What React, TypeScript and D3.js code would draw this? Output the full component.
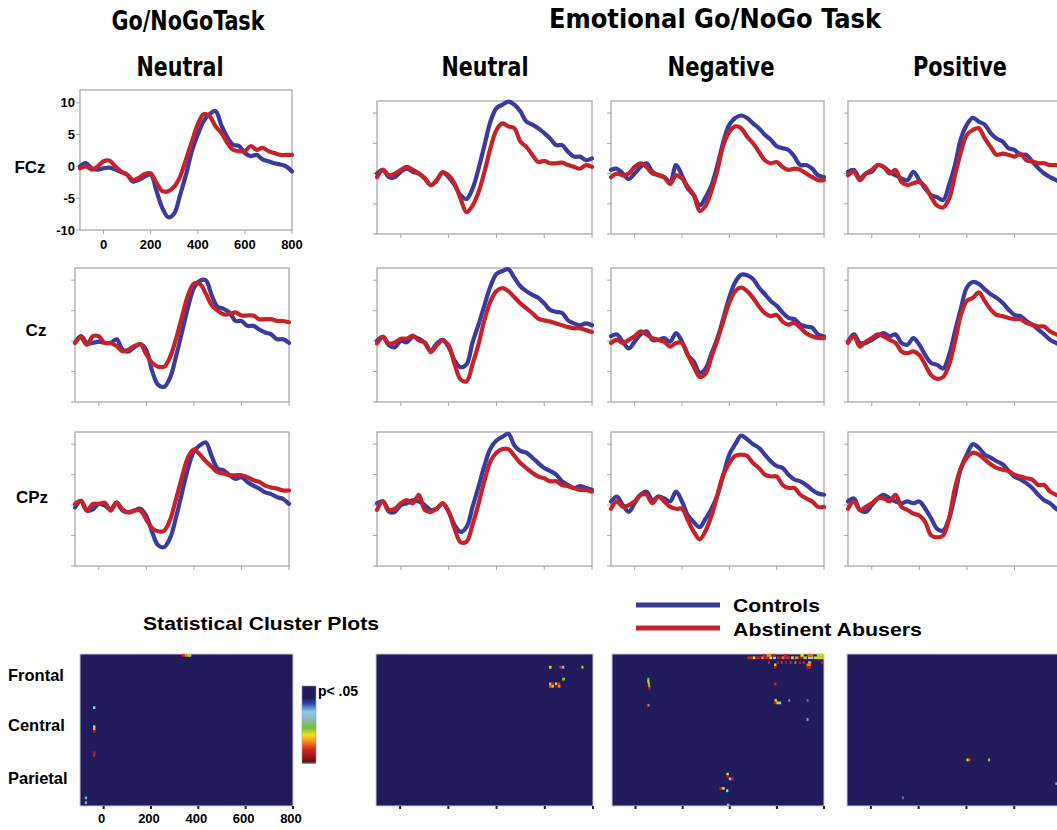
import React from 'react';
import * as d3 from 'd3';

// ---------------- DATA ----------------
const TIMES = [-100, -75, -50, -25, 0, 25, 50, 75, 100, 125, 150, 175, 200, 225, 250, 275, 300, 325, 350, 375, 400, 425, 450, 475, 500, 525, 550, 575, 600, 625, 650, 675, 700, 725, 750, 775, 800];
const Y_TICKS = [-10, -5, 0, 5, 10];
const X_TICKS = [0, 200, 400, 600, 800];
const ELECTRODES = ['FCz', 'Cz', 'CPz'];
const CONDITIONS = ['Neutral', 'Neutral', 'Negative', 'Positive'];
const REGIONS = ['Frontal', 'Central', 'Parietal'];
const SERIES_NAMES = ['Controls', 'Abstinent Abusers'];

// Go/NoGo task (Neutral)
const G_FCz_C = [0, 0.5, -0.3, -0.5, -0.3, -0.2, -0.5, -0.9, -1.3, -2.4, -2.1, -1.6, -1.3, -3.9, -6.6, -8.0, -7.4, -4.5, -1.3, 2.4, 5.0, 7.1, 8.2, 8.7, 6.5, 4.6, 3.4, 3.2, 2.1, 1.6, 1.8, 1.1, 0.8, 0.5, 0.3, 0, -0.8];
const G_FCz_A = [-0.3, 0, -0.5, 0, 0.8, 0.9, 0, -0.8, -1.3, -2.1, -1.8, -1.2, -1.1, -2.6, -3.9, -3.9, -3.2, -1.6, 1.1, 3.9, 6.6, 8.2, 7.9, 6.3, 5.3, 3.7, 2.6, 2.4, 2.4, 3.2, 2.6, 2.9, 2.4, 2.1, 1.8, 1.8, 1.8];
const G_Cz_C = [-0.3, 0.8, -0.3, -0.3, -0.1, -0.3, -0.3, 0.3, -1.4, -1.7, -1.0, -0.5, -1.5, -5.0, -7.2, -7.5, -6.0, -2.5, 1.5, 5.5, 8.7, 9.9, 10.0, 7.5, 5.6, 5.3, 4.7, 3.3, 3.3, 2.5, 2.5, 1.9, 1.4, 1.1, 0.3, 0.3, -0.3];
const G_Cz_A = [-0.3, 0.6, -0.6, 0.8, 0.8, -0.3, -0.3, -0.8, -1.7, -1.4, -0.8, -0.5, -2.2, -3.6, -4.2, -4.2, -2.6, 0.4, 4.0, 7.5, 9.4, 9.4, 7.8, 5.9, 5.0, 4.4, 4.4, 4.7, 4.2, 4.2, 4.2, 3.6, 3.6, 3.6, 3.3, 3.3, 3.1];
const G_CPz_C = [-0.4, 0.7, -0.9, -0.7, 0.2, -0.1, -0.7, 0.4, -0.9, -1.2, -0.9, -0.6, -1.8, -4.5, -6.6, -6.9, -5.4, -2.0, 2.0, 6.0, 8.8, 9.8, 10.3, 8.0, 6.0, 5.7, 4.9, 4.3, 4.6, 3.8, 3.2, 2.7, 2.1, 1.8, 1.3, 1.0, 0.2];
const G_CPz_A = [0.2, 0.7, -0.9, 0.2, 0.2, 0.4, -0.9, 0.4, -0.7, -1.2, -0.9, -0.9, -2.4, -3.8, -4.3, -4.2, -2.4, 1.0, 4.6, 7.8, 9.1, 8.3, 7.2, 6.3, 5.4, 5.2, 4.9, 4.9, 4.9, 4.6, 4.1, 3.8, 3.2, 2.9, 2.7, 2.4, 2.4];

// Emotional Go/NoGo: Neutral
const EN_FCz_C = [0, 0.6, -0.6, -0.6, 0.3, 0.8, 0.3, 0, -0.8, -1.9, -1.1, 0.2, -0.6, -1.9, -3.6, -4.2, -2.5, 0.8, 4.7, 8.6, 10.8, 11.4, 11.9, 11.4, 10.3, 8.6, 8.1, 7.5, 6.7, 5.8, 4.7, 4.7, 3.6, 2.8, 2.8, 2.2, 2.5];
const EN_FCz_A = [-0.6, 0.6, -0.3, 0, 0.6, 1.1, 0.6, 0, -0.8, -1.9, -1.1, 0.2, -0.3, -1.7, -4.2, -6.4, -5.3, -3.1, 0.3, 4.2, 7.2, 8.3, 7.8, 7.5, 5.3, 4.4, 3.1, 1.9, 2.1, 1.7, 1.7, 1.8, 1.4, 1.1, 0.8, 1.4, 1.1];
const EN_Cz_C = [0.1, 0.7, -0.7, -1.0, 0, -0.2, 0.7, 0.4, -0.3, -1.6, -0.4, 0.2, -1.0, -3.2, -4.3, -3.8, -0.2, 2.7, 5.9, 9.0, 11.0, 11.5, 11.8, 10.4, 9.0, 8.2, 7.6, 7.1, 6.2, 5.1, 4.8, 4.6, 3.4, 2.9, 2.6, 2.9, 2.6];
const EN_Cz_A = [-0.4, 0.7, -0.4, -0.2, 0.4, 0.4, 0.9, 0.1, -0.2, -1.8, -0.7, 0.1, -0.7, -3.8, -6.3, -6.6, -3.8, -0.5, 3.5, 6.5, 8.2, 8.7, 8.2, 7.2, 6.2, 5.4, 4.6, 3.7, 3.4, 3.2, 2.9, 2.6, 2.3, 2.1, 2.1, 1.8, 1.5];
const EN_CPz_C = [0.3, 0.6, -1.1, -1.1, 0, 0.3, 0.8, 0.6, 0, -0.8, -0.6, 0.3, -1.1, -3.3, -4.4, -3.6, -0.3, 3.0, 6.5, 9.3, 10.6, 11.2, 11.7, 9.8, 8.9, 8.6, 7.8, 6.9, 6.1, 5.6, 5.0, 3.9, 3.3, 2.8, 3.1, 2.8, 2.5];
const EN_CPz_A = [-0.8, 0.6, -0.8, -0.6, 0.3, 0.8, 0.3, 1.7, -0.8, -1.1, -0.6, 0.3, -1.1, -3.9, -6.1, -6.0, -3.2, 0.2, 4.0, 7.2, 8.6, 9.2, 9.2, 8.1, 6.9, 6.1, 5.3, 4.7, 4.4, 3.9, 3.9, 3.3, 3.1, 2.8, 2.5, 2.5, 2.2];

// Emotional Go/NoGo: Negative
const EG_FCz_C = [0.6, 0.8, 0, -0.9, 0, 1.1, 1.7, 0.3, -0.3, -0.6, -1.4, 1.4, -0.3, -2.5, -3.6, -5.3, -3.9, -1.9, 1.4, 5.3, 8.1, 9.2, 9.6, 9.2, 8.3, 7.5, 6.4, 5.6, 4.5, 4.2, 3.9, 2.8, 1.4, 1.4, 0.8, -0.3, -0.6];
const EG_FCz_A = [-0.6, 0, -0.3, 0, 1.1, 1.7, 1.1, 0, -0.2, -0.6, -1.7, -0.3, -0.8, -2.2, -3.6, -6.2, -5.3, -2.8, 0.6, 4.7, 6.9, 7.8, 7.5, 6.1, 5.0, 3.6, 2.2, 1.7, 1.9, 1.1, 0.6, 0.8, 0.6, 0, -0.6, -1.1, -1.1];
const EG_Cz_C = [0.8, 1.1, -0.1, -1.2, -0.1, 1.1, 1.6, 0.2, 0.2, 0.5, -0.1, 1.3, -0.1, -2.3, -3.4, -5.2, -4.5, -2.0, 0.5, 3.8, 7.2, 9.7, 10.9, 10.8, 10.2, 8.8, 7.7, 6.6, 5.8, 4.7, 3.8, 3.6, 2.7, 2.4, 2.2, 1.1, 0.8];
const EG_Cz_A = [-0.3, 0.2, -0.3, 0.2, 0.8, 1.6, 1.1, 0.5, 0.2, -0.1, -0.9, -0.3, -0.3, -2.3, -4.2, -5.9, -5.3, -2.5, 0.2, 3.3, 6.3, 8.2, 8.8, 8.2, 7.1, 5.7, 4.6, 4.1, 4.3, 3.2, 2.7, 3.0, 2.2, 1.3, 0.8, 0.5, 0.5];
const EG_CPz_C = [0.6, 1.4, 0, -1.1, 0.3, 1.7, 2.2, 0.8, 1.4, 1.1, 0.6, 2.2, 0.6, -1.7, -2.8, -3.6, -2.2, -0.6, 1.7, 5.0, 8.3, 10.0, 11.4, 10.8, 10.0, 9.4, 8.3, 7.2, 6.4, 6.1, 5.0, 4.2, 3.9, 3.3, 2.5, 1.9, 1.7];
const EG_CPz_A = [-0.6, 0.6, -0.3, 0, 0.6, 1.7, 1.7, 0.3, 1.4, 0.6, -0.3, -0.6, -0.6, -2.5, -4.4, -5.6, -4.2, -1.7, 1.7, 5.0, 6.9, 8.1, 8.3, 8.1, 6.9, 6.1, 5.0, 4.7, 4.7, 3.3, 2.8, 2.8, 1.7, 1.1, 0.6, -0.3, -0.3];

// Emotional Go/NoGo: Positive
const EP_FCz_C = [0.3, 0.6, -0.8, 0, 0.3, 1.4, 1.1, 0.3, -0.3, -0.8, -1.1, 0.3, -1.1, -2.5, -3.6, -3.9, -4.4, -1.9, 1.4, 5.8, 8.1, 9.2, 8.6, 8.1, 6.7, 5.8, 5.3, 4.2, 3.9, 3.1, 3.1, 2.0, 0.9, 0, -0.6, -1.1, -1.6];
const EP_FCz_A = [-0.3, 0.3, -1.1, 0, 0.6, 1.4, 1.1, 0, 0.6, -1.4, -1.9, -1.6, -1.4, -2.2, -3.9, -5.3, -5.6, -4.2, -0.3, 3.6, 6.4, 7.2, 7.5, 5.8, 4.4, 3.1, 3.3, 3.1, 2.8, 3.3, 2.2, 2.0, 1.7, 1.7, 1.4, 1.4, 1.1];
const EP_Cz_C = [-0.1, 1.1, -0.3, -0.3, 0.2, 0.8, 1.3, 0.8, 1.1, -0.3, -0.6, 0.5, -0.6, -2.3, -3.6, -3.9, -4.5, -2.3, 1.6, 5.4, 8.8, 9.7, 9.4, 8.5, 7.7, 7.1, 6.3, 5.2, 4.3, 4.1, 3.3, 2.7, 1.9, 1.1, 0.2, -0.3, -0.9];
const EP_Cz_A = [-0.3, 0.8, -0.9, -0.1, 0.5, 1.1, 0.8, 0.2, -0.3, -1.7, -2.0, -1.7, -2.3, -3.9, -5.6, -6.2, -5.9, -3.9, -0.1, 4.3, 6.6, 7.1, 8.0, 6.6, 5.2, 4.3, 4.1, 3.8, 3.6, 3.6, 3.0, 2.7, 2.4, 2.4, 1.6, 1.1, 0.8];
const EP_CPz_C = [0.6, 1.1, -0.8, -1.1, 0, 1.1, 1.7, 1.1, 0.6, 0.3, 0.6, 0.3, 0.6, -0.6, -2.2, -3.9, -4.2, -2.2, 1.7, 6.1, 8.3, 10.0, 9.4, 8.3, 7.8, 7.2, 6.7, 5.6, 4.7, 4.2, 3.6, 2.8, 1.7, 0.8, 0.3, -0.6, -1.1];
const EP_CPz_A = [-0.6, 0.6, -0.8, -0.3, 0.3, 1.1, 1.1, 0.6, 1.7, -0.3, -0.8, -1.4, -1.7, -2.8, -5.0, -5.3, -5.0, -2.2, 2.8, 6.1, 7.8, 8.6, 8.3, 7.5, 6.7, 6.1, 5.8, 5.6, 5.0, 4.7, 4.4, 4.2, 3.3, 3.3, 2.2, 1.7, 1.4];

// Statistical cluster cells: [time ms, electrode row (0-63), width ms, colour value 0-1]
const CL_GONOGO = [[330, 0, 12, 0.82], [342, 0, 12, 0.72], [354, 0, 8, 0.63], [362, 0, 8, 0.33], [-45, 22, 10, 0.33], [-45, 30, 10, 0.6], [-45, 31, 10, 0.66], [-45, 32, 10, 0.86], [-45, 41, 10, 0.88], [-45, 42, 10, 0.82], [-80, 60, 10, 0.3], [-80, 62, 10, 0.3]];
const CL_NEUTRAL = [[618, 5, 10, 0.62], [660, 5, 12, 0.82], [672, 5, 8, 0.33], [752, 5, 8, 0.6], [672, 10, 12, 0.55], [618, 12, 10, 0.66], [628, 12, 10, 0.86], [642, 12, 10, 0.62], [652, 12, 12, 0.82], [618, 13, 10, 0.76], [628, 13, 10, 0.6], [644, 13, 10, 0.9], [655, 13, 10, 0.72]];
const CL_NEGATIVE = [
  [475, 1, 20, 0.82], [497, 1, 12, 0.66], [512, 1, 18, 0.86], [534, 1, 10, 0.7], [548, 1, 16, 0.82], [568, 1, 12, 0.62], [584, 1, 12, 0.33], [600, 1, 16, 0.86], [620, 1, 12, 0.74], [636, 1, 20, 0.82], [660, 1, 12, 0.62], [676, 1, 16, 0.72], [696, 1, 12, 0.86], [712, 1, 16, 0.58], [732, 1, 22, 0.33], [756, 1, 44, 0.6],
  [540, 0, 10, 0.82], [556, 0, 20, 0.72], [582, 0, 12, 0.86], [628, 0, 16, 0.82], [700, 0, 14, 0.62], [730, 0, 24, 0.76], [770, 0, 30, 0.6],
  [562, 3, 8, 0.82], [600, 3, 8, 0.86], [616, 3, 8, 0.82], [634, 3, 8, 0.86], [654, 3, 8, 0.82], [674, 3, 8, 0.76], [694, 3, 8, 0.86], [710, 3, 8, 0.82], [732, 3, 14, 0.72], [788, 3, 8, 0.82],
  [588, 4, 10, 0.62], [588, 5, 10, 0.86], [726, 4, 18, 0.72], [726, 5, 18, 0.86],
  [50, 10, 8, 0.55], [50, 11, 8, 0.62], [52, 12, 8, 0.58], [54, 13, 8, 0.72], [55, 14, 8, 0.86], [50, 21, 10, 0.76],
  [588, 12, 10, 0.82], [590, 19, 10, 0.62], [588, 20, 10, 0.86], [598, 20, 10, 0.62], [608, 20, 10, 0.33],
  [648, 19, 8, 0.28], [726, 19, 8, 0.26], [726, 27, 8, 0.3],
  [386, 50, 10, 0.62], [386, 51, 10, 0.86], [396, 52, 10, 0.33], [406, 52, 10, 0.82],
  [356, 56, 12, 0.82], [368, 56, 10, 0.62], [384, 57, 10, 0.33], [388, 63, 10, 0.33]
];
const CL_POSITIVE = [[400, 44, 10, 0.62], [410, 44, 6, 0.82], [490, 44, 8, 0.58], [772, 54, 8, 0.3], [130, 60, 8, 0.26]];

const CB_STOPS = [0, 0.15, 0.22, 0.33, 0.43, 0.54, 0.63, 0.71, 0.82, 1];
const CB_COLORS = ['#221b5b', '#221b5b', '#2a45a8', '#8ccfe4', '#8fb6b8', '#72be3c', '#f2e41a', '#f39320', '#d52222', '#5a0b0b'];

// ---------------- LAYOUT ----------------
const BLUE = '#3b3a9e';
const RED = '#c62229';
const AXIS = '#a3a3a3';
const BG = '#221b5b';
const FONT = "'Liberation Sans', Arial, sans-serif";
const NARROW = "'Liberation Sans Narrow', 'DejaVu Sans Condensed', sans-serif";

const WAVES = [
  [[G_FCz_C, G_FCz_A], [EN_FCz_C, EN_FCz_A], [EG_FCz_C, EG_FCz_A], [EP_FCz_C, EP_FCz_A]],
  [[G_Cz_C, G_Cz_A], [EN_Cz_C, EN_Cz_A], [EG_Cz_C, EG_Cz_A], [EP_Cz_C, EP_Cz_A]],
  [[G_CPz_C, G_CPz_A], [EN_CPz_C, EN_CPz_A], [EG_CPz_C, EG_CPz_A], [EP_CPz_C, EP_CPz_A]],
];
const CLUSTERS = [CL_GONOGO, CL_NEUTRAL, CL_NEGATIVE, CL_POSITIVE];

const COL_X = [[377, 592], [611, 824], [848, 1062]];
const ROW_Y = [[101, 234], [268, 402], [432, 566]];
const BOX0 = [[80, 292, 90, 230], [75, 289, 268, 402], [75, 289, 432, 566]];
const CL_X = [[80, 293], [376, 593], [612, 824], [847, 1062]];
const CL_Y = [654, 806];

function boxFor(r: number, c: number) {
  if (c === 0) return BOX0[r];
  const [x0, x1] = COL_X[c - 1];
  const [y0, y1] = ROW_Y[r];
  return [x0, x1, y0, y1];
}

function WavePanel({ r, c }: { r: number; c: number }) {
  const [x0, x1, y0, y1] = boxFor(r, c);
  const xs = d3.scaleLinear().domain([-100, 800]).range([x0, x1]);
  const ys = d3.scaleLinear().domain([-10, 12]).range([y1, y0]);
  const line = d3
    .line<number>()
    .x((_, i) => xs(TIMES[i]))
    .y((d) => ys(d))
    .curve(d3.curveCatmullRom.alpha(0.5));
  const [ctrl, abus] = WAVES[r][c];
  const labels = r === 0 && c === 0;
  return (
    <g>
      <rect x={x0} y={y0} width={x1 - x0} height={y1 - y0} fill="none" stroke={AXIS} strokeWidth={1.2} />
      {Y_TICKS.map((t) => (
        <line key={'y' + t} x1={x0 - 4} x2={x0} y1={ys(t)} y2={ys(t)} stroke={AXIS} strokeWidth={1} />
      ))}
      {X_TICKS.map((t) => (
        <line key={'x' + t} x1={xs(t)} x2={xs(t)} y1={y1} y2={y1 + 4} stroke={AXIS} strokeWidth={1} />
      ))}
      {labels &&
        Y_TICKS.map((t) => (
          <text key={'yl' + t} x={x0 - 5} y={ys(t)} textAnchor="end" dominantBaseline="central" fontFamily={FONT} fontWeight="bold" fontSize={13}>
            {t}
          </text>
        ))}
      {labels &&
        X_TICKS.map((t) => (
          <text key={'xl' + t} x={xs(t)} y={y1 + 14} textAnchor="middle" dominantBaseline="central" fontFamily={FONT} fontWeight="bold" fontSize={13}>
            {t}
          </text>
        ))}
      <path d={line(ctrl) || ''} fill="none" stroke={BLUE} strokeWidth={4.2} strokeLinejoin="round" strokeLinecap="round" />
      <path d={line(abus) || ''} fill="none" stroke={RED} strokeWidth={4.2} strokeLinejoin="round" strokeLinecap="round" />
    </g>
  );
}

function ClusterPanel({ c }: { c: number }) {
  const [x0, x1] = CL_X[c];
  const [y0, y1] = CL_Y;
  const xs = d3.scaleLinear().domain([-100, 800]).range([x0, x1]);
  const rs = d3.scaleLinear().domain([0, 64]).range([y0, y1]);
  const color = d3.scaleLinear<string>().domain(CB_STOPS).range(CB_COLORS);
  return (
    <g>
      <rect x={x0} y={y0} width={x1 - x0} height={y1 - y0} fill={BG} stroke="#c8c8d8" strokeWidth={1} />
      {CLUSTERS[c].map((d, i) => (
        <rect key={i} x={xs(d[0])} y={rs(d[1])} width={Math.max(2, xs(d[0] + d[2]) - xs(d[0]))} height={rs(d[1] + 1) - rs(d[1]) + 0.4} fill={color(d[3])} />
      ))}
      {X_TICKS.map((t) => (
        <line key={t} x1={xs(t)} x2={xs(t)} y1={y1} y2={y1 + 3} stroke="#222" strokeWidth={2} />
      ))}
      {c === 0 &&
        X_TICKS.map((t) => (
          <text key={'l' + t} x={xs(t) - 2} y={y1 + 12} textAnchor="middle" dominantBaseline="central" fontFamily={FONT} fontWeight="bold" fontSize={13}>
            {t}
          </text>
        ))}
    </g>
  );
}

function ColorBar() {
  const x = 302, y0 = 686, y1 = 763, w = 14;
  const color = d3.scaleLinear<string>().domain(CB_STOPS).range(CB_COLORS);
  const steps = d3.range(0, 1, 1 / 77);
  const ys = d3.scaleLinear().domain([0, 1]).range([y0, y1]);
  return (
    <g>
      {steps.map((s, i) => (
        <rect key={i} x={x} y={ys(s)} width={w} height={ys(1 / 77) - ys(0) + 0.5} fill={color(s)} />
      ))}
      <rect x={x} y={y0} width={w} height={y1 - y0} fill="none" stroke="#999" strokeWidth={0.6} />
      <text x={318} y={691} dominantBaseline="central" fontFamily={FONT} fontWeight="bold" fontSize={14}>
        p&lt; .05
      </text>
    </g>
  );
}

export default function App() {
  const headX = [180, 485, 721, 960];
  const headLen = [87, 87, 107, 94];
  const rowLabelX = [30, 36, 32];
  const rowLabelY = [167, 330, 497];
  const regionY = [675, 725, 778];
  return (
    <svg width={1057} height={830} style={{ position: 'absolute', left: 0, top: 0, background: '#fff' }}>
      <rect x={0} y={0} width={1057} height={830} fill="#fff" />
      <text x={188} y={30} textAnchor="middle" fontFamily={NARROW} fontWeight="bold" fontSize={26} textLength={153} lengthAdjust="spacingAndGlyphs">
        Go/NoGoTask
      </text>
      <text x={715} y={28} textAnchor="middle" fontFamily={NARROW} fontWeight="bold" fontSize={26} textLength={332} lengthAdjust="spacingAndGlyphs">
        Emotional Go/NoGo Task
      </text>
      {CONDITIONS.map((c, i) => (
        <text key={i} x={headX[i]} y={76} textAnchor="middle" fontFamily={NARROW} fontWeight="bold" fontSize={26} textLength={headLen[i]} lengthAdjust="spacingAndGlyphs">
          {c}
        </text>
      ))}
      {ELECTRODES.map((e, i) => (
        <text key={e} x={rowLabelX[i]} y={rowLabelY[i]} textAnchor="middle" dominantBaseline="central" fontFamily={FONT} fontWeight="bold" fontSize={17}>
          {e}
        </text>
      ))}
      {[0, 1, 2].map((r) => [0, 1, 2, 3].map((c) => <WavePanel key={r + '-' + c} r={r} c={c} />))}

      {/* legend */}
      <line x1={636} x2={720} y1={605} y2={605} stroke={BLUE} strokeWidth={5} />
      <line x1={636} x2={720} y1={628} y2={628} stroke={RED} strokeWidth={5} />
      <text x={733} y={605} dominantBaseline="central" fontFamily={FONT} fontWeight="bold" fontSize={19} textLength={87} lengthAdjust="spacingAndGlyphs">
        {SERIES_NAMES[0]}
      </text>
      <text x={733} y={629} dominantBaseline="central" fontFamily={FONT} fontWeight="bold" fontSize={19} textLength={189} lengthAdjust="spacingAndGlyphs">
        {SERIES_NAMES[1]}
      </text>

      <text x={261} y={623} textAnchor="middle" dominantBaseline="central" fontFamily={FONT} fontWeight="bold" fontSize={19} textLength={236} lengthAdjust="spacingAndGlyphs">
        Statistical Cluster Plots
      </text>
      {REGIONS.map((r, i) => (
        <text key={r} x={8} y={regionY[i]} dominantBaseline="central" fontFamily={FONT} fontWeight="bold" fontSize={16.5}>
          {r}
        </text>
      ))}
      {[0, 1, 2, 3].map((c) => <ClusterPanel key={c} c={c} />)}
      <ColorBar />
    </svg>
  );
}
